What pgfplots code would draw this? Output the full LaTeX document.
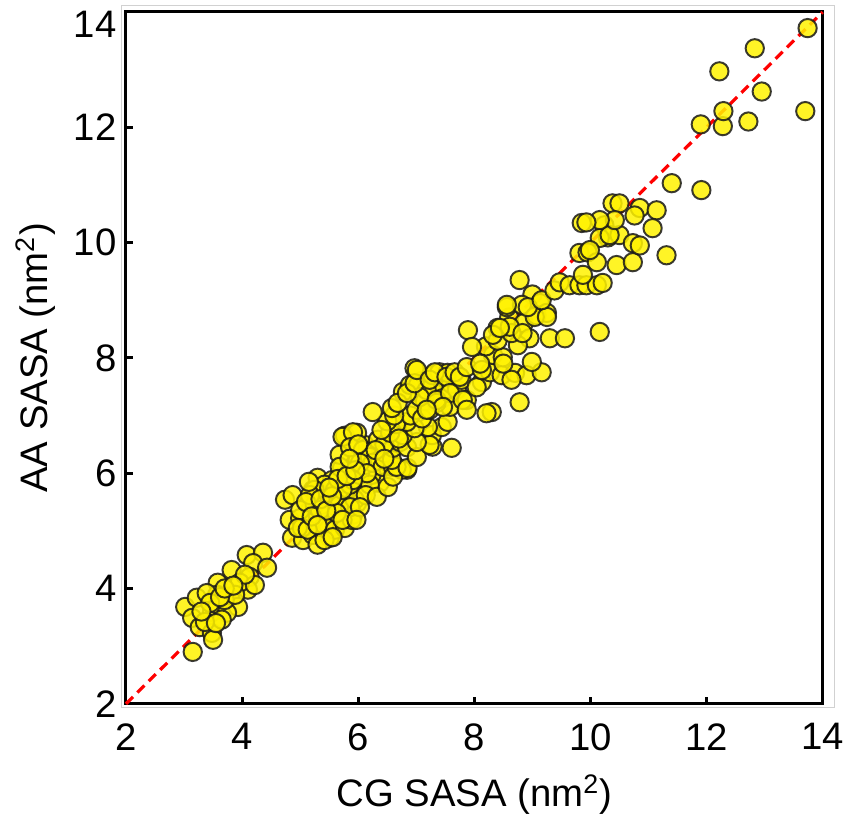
\documentclass[border=0pt]{standalone}
\usepackage{fontspec}
\setmainfont{Liberation Sans}
\usepackage{pgfplots}
\pgfplotsset{compat=1.18}

\pgfplotstableread{
x y
3.15 2.90
3.02 3.68
3.22 3.84
3.14 3.49
3.27 3.33
3.48 3.23
3.48 3.59
3.58 3.72
3.58 4.10
3.82 4.32
3.79 3.86
3.93 3.68
3.74 3.58
3.65 3.46
4.08 4.58
4.36 4.62
4.19 4.44
4.43 4.36
4.13 4.20
4.10 3.98
3.96 4.10
3.57 3.89
3.39 3.92
3.36 3.42
3.50 3.11
3.70 3.80
3.88 3.89
4.22 4.06
4.05 4.24
3.45 3.75
3.62 3.85
3.70 4.00
3.85 4.05
3.30 3.60
3.55 3.40
4.74 5.54
4.87 5.62
4.82 5.19
4.86 4.88
5.05 4.84
5.17 5.36
5.22 5.71
5.39 5.62
5.30 5.92
5.55 5.88
5.37 5.45
5.63 5.41
5.80 5.45
5.98 5.48
5.73 5.76
5.91 5.74
5.72 6.09
5.86 6.44
6.15 6.35
6.37 6.14
6.58 6.11
6.84 6.06
6.37 5.83
6.08 5.62
5.17 5.14
5.48 5.02
5.51 4.88
5.22 4.93
5.77 5.22
5.91 5.28
5.00 5.22
5.03 5.05
5.00 5.36
5.25 5.45
5.42 5.80
5.51 5.54
5.60 5.71
5.25 5.71
5.77 5.71
5.86 6.06
5.99 6.23
6.20 6.40
6.29 6.23
6.23 5.97
6.11 6.49
6.34 6.58
5.68 5.45
5.42 5.10
5.60 5.02
5.77 5.05
5.89 5.19
4.96 5.05
5.13 5.02
5.30 4.76
5.42 4.84
5.34 5.36
5.17 5.62
5.94 5.54
5.86 5.80
6.03 5.97
6.11 6.14
6.20 5.80
6.13 5.62
5.68 6.32
5.77 6.65
5.98 6.70
5.73 6.63
5.91 6.71
5.86 6.45
6.08 6.40
6.20 6.28
6.37 6.23
6.25 6.18
6.42 6.11
6.60 6.11
6.75 6.06
5.68 6.11
6.03 6.18
6.15 6.00
5.91 5.88
5.86 5.41
5.73 5.71
5.63 5.31
6.03 5.41
5.56 4.89
5.73 5.19
5.97 5.19
5.10 5.50
5.20 5.25
5.35 5.55
5.45 5.35
5.55 5.60
5.65 5.90
5.80 5.95
5.95 6.05
5.50 5.75
5.30 5.10
5.15 5.85
6.00 6.50
5.85 6.25
6.32 5.59
6.51 5.76
6.60 5.94
6.66 6.11
6.46 6.35
6.58 6.23
6.60 6.44
6.72 6.54
6.84 6.45
6.85 6.09
7.01 6.28
7.28 6.46
7.27 6.66
7.23 6.49
7.01 6.54
6.77 6.66
7.61 6.44
7.44 6.80
7.54 6.89
7.20 6.80
6.97 6.78
6.84 6.89
6.45 6.50
6.55 6.70
6.65 6.85
6.70 6.60
6.90 7.00
7.00 7.10
7.10 6.95
7.15 7.25
7.30 7.40
7.40 7.50
7.45 7.30
6.50 6.90
6.40 6.75
6.62 7.00
7.10 7.60
7.60 7.55
7.70 7.45
6.30 6.40
6.45 6.25
6.25 7.06
6.97 7.82
6.77 7.41
6.58 7.13
6.68 7.22
6.89 7.53
7.03 7.53
7.18 7.44
7.28 7.70
7.40 7.75
7.54 7.74
7.78 7.62
7.87 7.27
7.58 7.15
7.35 7.22
7.23 7.10
7.06 7.32
6.84 7.39
6.97 7.56
7.01 7.79
7.23 7.62
7.32 7.75
7.52 7.67
7.66 7.75
7.75 7.67
7.87 7.84
8.13 7.58
8.27 7.75
8.47 7.70
8.70 7.74
8.90 7.70
9.16 7.75
8.99 7.93
8.32 8.05
8.49 8.01
7.35 7.27
7.58 7.39
7.80 7.27
7.87 7.10
7.46 7.15
7.18 7.10
8.30 7.06
8.78 7.23
8.64 7.62
8.04 7.49
8.13 7.79
8.21 7.04
8.20 8.20
8.40 8.30
8.60 8.70
8.85 8.60
8.10 7.90
8.50 7.90
9.00 9.10
7.89 8.48
7.96 8.19
8.40 8.52
8.56 8.88
8.82 8.92
9.13 8.95
9.07 8.74
9.25 8.78
8.95 8.34
8.75 8.22
8.64 8.43
9.30 8.34
8.78 9.35
8.56 8.92
8.61 8.54
9.04 8.71
9.25 8.71
8.83 8.43
9.56 8.34
10.16 8.45
8.32 8.40
8.44 8.52
8.92 8.88
9.16 9.00
9.38 9.17
9.47 9.31
9.64 9.26
9.81 9.26
9.93 9.26
10.11 9.26
10.21 9.30
9.81 9.82
9.95 9.83
10.11 9.66
10.24 10.30
10.45 9.61
10.73 9.66
10.30 10.09
10.50 10.13
10.16 10.08
9.85 10.34
10.73 9.99
9.87 9.44
9.99 9.87
10.33 10.13
10.85 9.95
11.31 9.78
10.38 10.68
10.50 10.68
10.85 10.60
11.14 10.56
10.76 10.47
11.07 10.25
10.42 10.39
10.16 10.39
9.93 10.35
11.40 11.03
11.91 10.91
11.90 12.05
12.28 12.02
12.29 12.28
12.72 12.10
12.95 12.62
12.22 12.97
12.83 13.37
13.70 12.28
13.74 13.72
}\datatable

\begin{document}
\begin{tikzpicture}
\begin{axis}[
  scale only axis,
  width=9.91cm, height=9.84cm,
  xmin=2, xmax=14, ymin=2, ymax=14,
  xtick={2,4,...,14}, ytick={2,4,...,12},
  extra y ticks={14},
  extra y tick style={yticklabel style={yshift=-0.18cm}},
  axis line style={black, line width=1.2pt},
  tick style={black, line width=1.2pt},
  major tick length=0.1cm,
  tick align=inside,
  xtick pos=lower, ytick pos=left,
  clip=false,
  /pgf/number format/assume math mode=true,
  ticklabel style={font=\fontsize{15.5}{18}\selectfont, inner sep=0pt},
  xticklabel style={yshift=-0.27cm},
  yticklabel style={xshift=-0.13cm},
  label style={font=\fontsize{15.5}{18}\selectfont},
  xlabel={CG SASA (nm\textsuperscript{2})},
  ylabel={AA SASA (nm\textsuperscript{2})},
  xlabel style={at={(axis description cs:0.5,0)}, anchor=center, yshift=-1.29cm},
  ylabel style={at={(axis description cs:0,0.5)}, anchor=center, yshift=1.29cm},
]
\path (rel axis cs:-0.1808,-0.1561) rectangle (rel axis cs:1.0301,1.0173);
\draw[black!18, line width=0.4pt] (rel axis cs:-0.0057,-0.0058) rectangle (rel axis cs:1.0172,1.0087);
\addplot[only marks, mark=*, mark size=3.7pt,
  mark options={fill=yellow, draw=black!90, line width=0.8pt, opacity=0.85}]
  table[x=x, y=y] {\datatable};
\addplot[red, line width=1.3pt, dash pattern=on 4pt off 2.5pt] coordinates {(2,2) (14,14)};
\end{axis}
\end{tikzpicture}
\end{document}
